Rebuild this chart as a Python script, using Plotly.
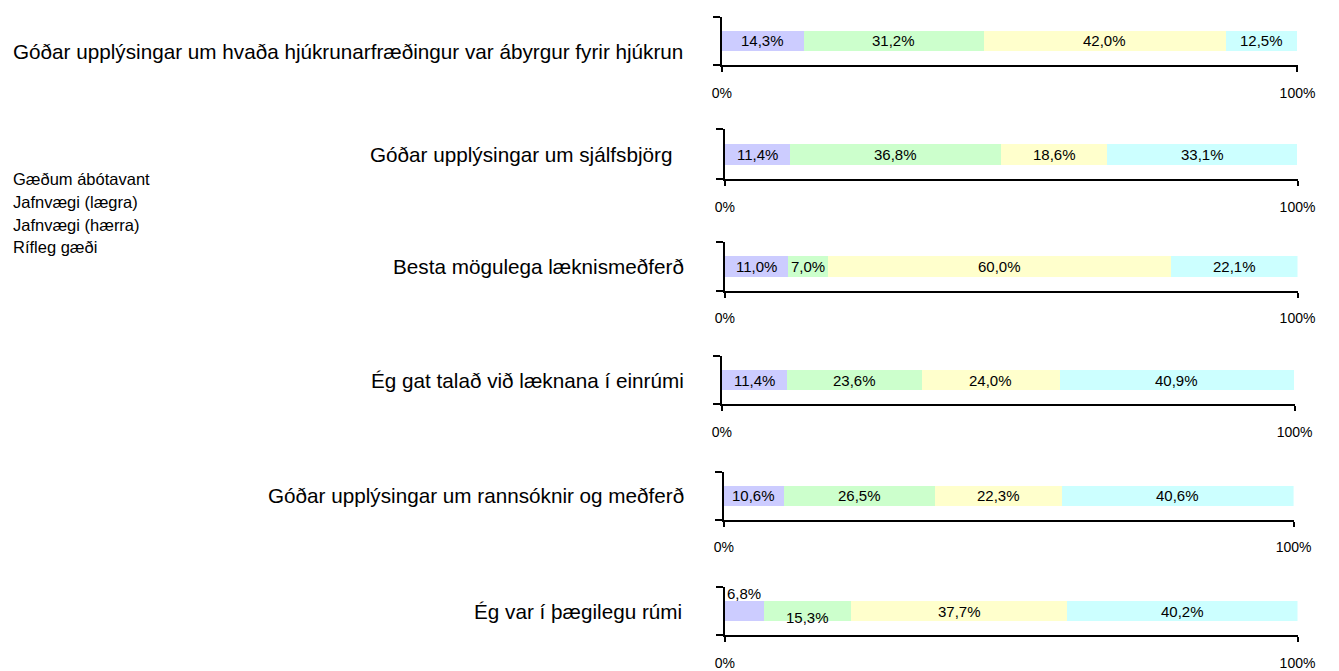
import plotly.graph_objects as go

# ------------------------------------------------------------
# Gögn
# ------------------------------------------------------------
questions = [
    "Góðar upplýsingar um hvaða hjúkrunarfræðingur var ábyrgur fyrir hjúkrun",
    "Góðar upplýsingar um sjálfsbjörg",
    "Besta mögulega læknismeðferð",
    "Ég gat talað við læknana í einrúmi",
    "Góðar upplýsingar um rannsóknir og meðferð",
    "Ég var í þægilegu rúmi",
]
series_names = ["Gæðum ábótavant", "Jafnvægi (lægra)", "Jafnvægi (hærra)", "Rífleg gæði"]

gaedum_abotavant = [14.3, 11.4, 11.0, 11.4, 10.6, 6.8]
jafnvaegi_laegra = [31.2, 36.8, 7.0, 23.6, 26.5, 15.3]
jafnvaegi_haerra = [42.0, 18.6, 60.0, 24.0, 22.3, 37.7]
rifleg_gaedi = [12.5, 33.1, 22.1, 40.9, 40.6, 40.2]

tick_vals = [0, 100]
tick_text = ["0%", "100%"]

# ------------------------------------------------------------
# Útlit
# ------------------------------------------------------------
W, H = 1339, 671
colors = ["#CCCCFF", "#CCFFCC", "#FFFFCC", "#CCFFFF"]
FONT = "Liberation Sans, Arial, sans-serif"

# (x vinstri, x hægri, y efst, y ás) í pixlum
panels = [
    (727, 1315, 17, 65),
    (730, 1315, 130, 180),
    (730, 1315, 243, 292),
    (727, 1312, 358, 406),
    (729, 1311, 474, 522),
    (730, 1315, 590, 638),
]
label_right = [689, 678, 690, 690, 690, 688]
label_shift = [-11, 0, 0, 0, 0, 0]
value_shift = {(5, 0): 18, (5, 1): -6}
legend_y = [180, 203, 226, 248]

all_series = [gaedum_abotavant, jafnvaegi_laegra, jafnvaegi_haerra, rifleg_gaedi]

fig = go.Figure()
annotations = []
layout_axes = {}

for i, q in enumerate(questions):
    n = "" if i == 0 else str(i + 1)
    x0, x1, ytop, yax = panels[i]
    cum = 0
    for k, s in enumerate(all_series):
        v = s[i]
        fig.add_trace(go.Bar(
            x=[v], y=[0], orientation="h", width=0.42,
            marker=dict(color=colors[k], line=dict(width=0)),
            name=series_names[k], showlegend=False,
            xaxis="x" + n, yaxis="y" + n, hoverinfo="skip",
        ))
        # gildismerki á miðjum bútnum
        annotations.append(dict(
            x=cum + v / 2, y=0, xref="x" + n, yref="y" + n,
            text=f"{v:.1f}".replace(".", ",") + "%", showarrow=False,
            yshift=value_shift.get((i, k), 0),
            font=dict(family=FONT, size=15, color="black"),
        ))
        cum += v

    annotations.append(dict(
        x=label_right[i] / W, y=0, xref="paper", yref="y" + n,
        xanchor="right", text=q, showarrow=False, yshift=label_shift[i],
        font=dict(family=FONT, size=20.7, color="black"),
    ))

    layout_axes["xaxis" + n] = dict(
        domain=[x0 / W, x1 / W], range=[0, 100], anchor="y" + n,
        tickvals=tick_vals, ticktext=tick_text, ticks="outside",
        ticklen=5, tickwidth=2, tickcolor="black",
        showline=True, linewidth=2, linecolor="black",
        showgrid=False, zeroline=False, fixedrange=True,
        ticklabelstandoff=9, tickfont=dict(family=FONT, size=14, color="black"),
    )
    layout_axes["yaxis" + n] = dict(
        domain=[1 - yax / H, 1 - ytop / H], range=[-0.5, 0.5], anchor="x" + n,
        tickvals=[-0.5, 0.5], ticks="outside", ticklen=7, tickwidth=2,
        tickcolor="black", showticklabels=False,
        showline=True, linewidth=2, linecolor="black",
        showgrid=False, zeroline=False, fixedrange=True,
    )

# skýringar án litareita, eins og í frumriti
for name, yc in zip(series_names, legend_y):
    annotations.append(dict(
        x=1 / W, y=1 - yc / H, xref="paper", yref="paper",
        xanchor="left", yanchor="middle", text=name, showarrow=False,
        font=dict(family=FONT, size=16.5, color="black"),
    ))

fig.update_layout(
    barmode="stack", width=W, height=H,
    margin=dict(l=0, r=0, t=0, b=0),
    plot_bgcolor="white", paper_bgcolor="white",
    annotations=annotations, showlegend=False,
    **layout_axes,
)

fig.write_html("out.html", config={"displayModeBar": False},
               post_script="document.body.style.margin='0';")
